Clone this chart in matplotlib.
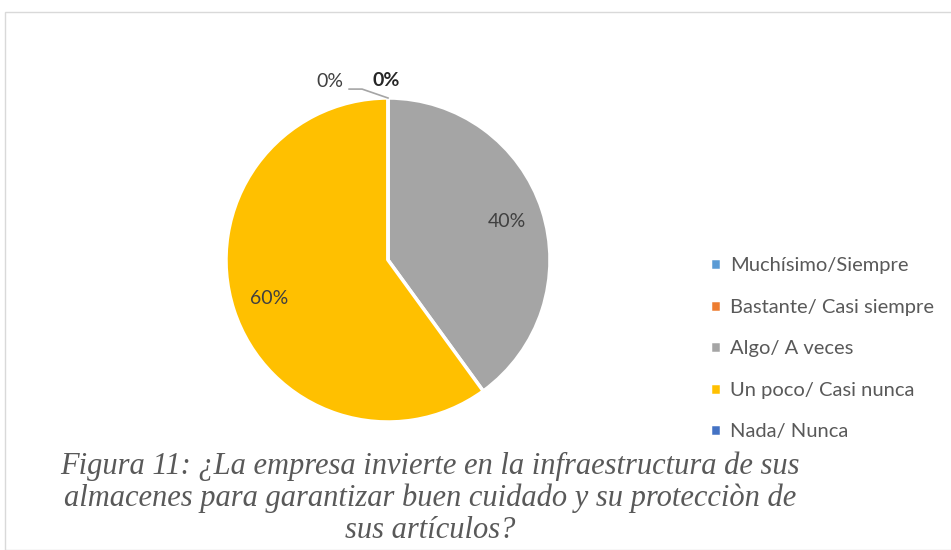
import matplotlib.pyplot as plt
from matplotlib.patches import Rectangle

categorias = ["Muchísimo/Siempre", "Bastante/ Casi siempre", "Algo/ A veces",
              "Un poco/ Casi nunca", "Nada/ Nunca"]
porcentajes = [0, 0, 40, 60, 0]
colores = ["#5B9BD5", "#ED7D31", "#A5A5A5", "#FFC000", "#4472C4"]
titulo = ("Figura 11: ¿La empresa invierte en la infraestructura de sus\n"
          "almacenes para garantizar buen cuidado y su protecciòn de\n"
          "sus artículos?")

W, H = 951, 550
fig = plt.figure(figsize=(W / 100, H / 100), dpi=100)

# marco del gráfico
fig.patches.append(Rectangle((5 / W, 0), 1, 1 - 12 / H, transform=fig.transFigure,
                             fill=False, edgecolor="#D9D9D9", linewidth=1))

cx, cy, R = 388, 260, 162
k = 1.4
ax = fig.add_axes([(cx - k * R) / W, (H - cy - k * R) / H, 2 * k * R / W, 2 * k * R / H])

wedges, textos, autot = ax.pie(
    porcentajes, colors=colores, startangle=90, counterclock=False, radius=1,
    autopct=lambda p: f"{p:.0f}%" if p > 0 else "", pctdistance=0.77,
    wedgeprops=dict(edgecolor="white", linewidth=2.5),
    textprops=dict(fontsize=14, color="#404040", family="Lato"))
ax.set_xlim(-k, k)
ax.set_ylim(-k, k)
ax.set_aspect("equal")
ax.axis("off")

# etiquetas 0%
ax.plot([-0.24, -0.16, 0.0], [1.055, 1.055, 1.0], color="#A5A5A5", lw=1.2)
ax.text(-0.36, 1.10, "0%", fontsize=14, color="#404040", family="Lato",
        ha="center", va="center")
ax.text(-0.01, 1.11, "0%", fontsize=14, color="#262626", family="Lato",
        fontweight="bold", ha="center", va="center")

leg = fig.legend(wedges, categorias, loc="upper left", bbox_to_anchor=(692 / W, 1 - 239 / H),
                 frameon=False, handlelength=0.55, handleheight=0.55, handletextpad=0.45,
                 labelspacing=1.22, prop=dict(family="Lato", size=14.5))
for t in leg.get_texts():
    t.set_color("#595959")

fig.text(430 / W, 1 - 498 / H, titulo, ha="center", va="center", fontsize=22,
         style="italic", family="Liberation Serif", color="#595959", linespacing=1.12)

fig.savefig("out.png", dpi=100)
